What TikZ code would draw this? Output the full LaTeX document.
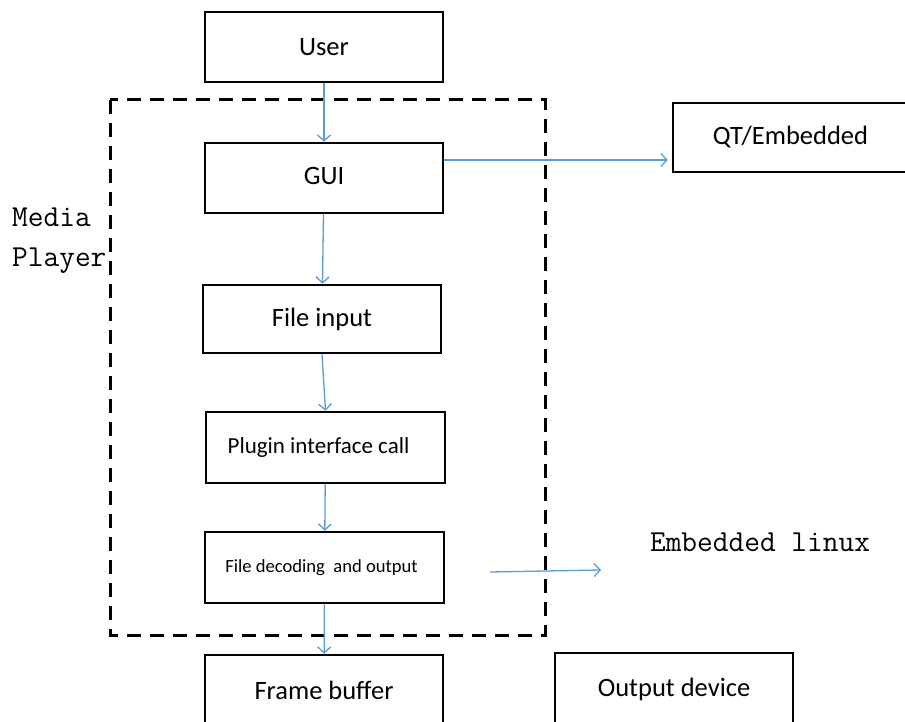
\documentclass[tikz,border=0pt]{standalone}
\usepackage{fontspec}
\setmainfont{Carlito}
\usetikzlibrary{arrows.meta}
\definecolor{lineblue}{RGB}{91,155,213}
\tikzset{
  box/.style={draw,rectangle,line width=2.5pt,inner sep=0pt,minimum width=238pt,minimum height=70pt,font=\fontsize{26.5}{30}\selectfont},
  flow/.style={->,draw=lineblue,line width=1.3pt},
  monolabel/.style={font=\ttfamily\fontsize{30.5}{40}\selectfont,inner sep=0pt}
}
\begin{document}
\begin{tikzpicture}[>={Straight Barb[length=6pt,width=13pt]},x=1pt,y=-1pt]
		\useasboundingbox (0,0) rectangle (905,722);
		\clip (0,0) rectangle (905,722);
		\node[box] (user) at (324,47) {User};
		\node[box] (gui) at (324,178) {GUI\vphantom{g}};
		\node[box,minimum height=68pt] (input) at (322,319) {File input};
		\node[box,minimum width=239pt,minimum height=71pt,font=\fontsize{23}{27}\selectfont] (plugin) at (325.5,447.5) {Plugin interface call\kern14pt};
		\node[box,minimum width=239pt,minimum height=71pt,font=\fontsize{18.6}{23}\selectfont] (decode) at (324.5,567.5) {File decoding\ \ and output\kern6pt};
		\node[box] (fbuf) at (324,690) {Frame buffer};
		\node[box,minimum height=72pt] (outdev) at (674,689) {Output device};
		\node[box,minimum width=235pt,minimum height=69pt] (qt) at (790.5,137.5) {QT/Embedded};
		% media player boundary
		\draw[line width=3pt,dash pattern=on 14pt off 9pt] (110,100) rectangle (545,635);
		\node[monolabel,anchor=north west,align=left] (media) at (12,208) {Media\\Player};
		\node[monolabel] (linux) at (760,542) {Embedded linux};
		\coordinate (outfrom) at (490,572);
		\coordinate (outto) at (601,570);
		\draw[flow] (user) -- (gui);
		\draw[flow] (gui) -- (input);
		\draw[flow] (input.south) -- (plugin.north);
		\draw[flow] (plugin) -- (decode);
		\draw[flow] (decode) -- (fbuf);
		\draw[flow,shorten >=4pt] ([yshift=18pt]gui.east) -- ([yshift=-22.5pt]qt.west);
		\draw[flow] (outfrom) -- (outto);
\end{tikzpicture}
\end{document}
